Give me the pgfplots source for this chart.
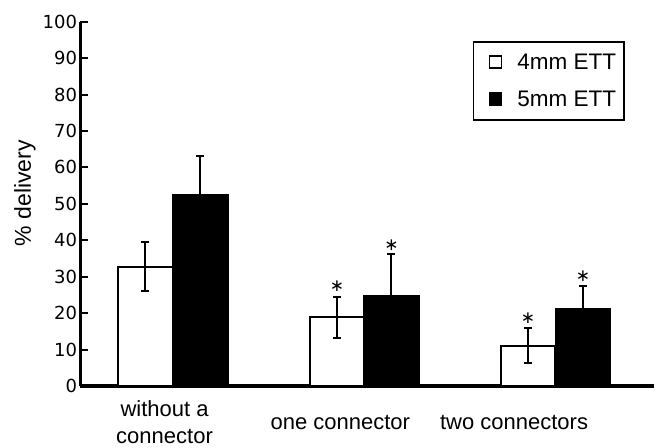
\documentclass[border=0pt]{standalone}
\usepackage{fontspec}
\setmainfont{Liberation Sans}
\newfontfamily\dejavu{DejaVu Sans}
\usepackage{pgfplots}
\pgfplotsset{compat=1.18}
\begin{document}
\begin{tikzpicture}
\begin{axis}[
  scale only axis,
  width=573pt, height=364.3pt,
  xmin=0, xmax=3, ymin=0, ymax=100,
  clip=false,
  axis x line=bottom, axis y line=left,
  axis line style={line width=3.6pt, -},
  every outer x axis line/.append style={-},
  every outer y axis line/.append style={-},
  ytick={0,10,...,100},
  tick align=inside,
  major tick length=8pt,
  every tick/.style={black, line width=2pt},
  xtick={0.44,1.36,2.27},
  xticklabels={{without a\\connector},{one connector},{two connectors}},
  x tick style={draw=none},
  minor xtick={1,2},
  minor tick length=8pt,
  minor x tick style={black, line width=2pt},
  /pgf/number format/assume math mode=true,
  y tick label style={font=\dejavu\fontsize{18}{21}\selectfont},
  x tick label style={font=\fontsize{22}{27}\selectfont, align=center, anchor=center, yshift=-36pt},
  ylabel={\% delivery},
  ylabel style={font=\fontsize{23}{26}\selectfont, at={(axis description cs:-0.097,0.529)}, anchor=center, rotate=0},
  legend style={at={(0.950,0.947)}, anchor=north east, font=\fontsize{22.5}{26}\selectfont,
    draw=black, line width=1.6pt, inner xsep=6pt, inner ysep=10pt, row sep=16pt, column sep=13pt},
  legend cell align=left,
]
\addplot[ybar, bar width=0.285, bar shift=0pt, fill=white, draw=black, line width=2pt,
  legend image code/.code={\path (0pt,0pt); \draw[fill=white, draw=black, line width=1.6pt] (9pt,-6pt) rectangle (21pt,6pt);},
  error bars/.cd, y dir=both, y explicit,
  error bar style={line width=2pt, black},
  error mark options={rotate=90, mark size=4pt, line width=2pt, black}]
coordinates {(0.34,32.7) +- (0,6.7) (1.343,18.9) +- (0,5.6) (2.343,11.0) +- (0,4.8)};
\addlegendentry{4mm ETT}
\addplot[ybar, bar width=0.285, bar shift=0pt, fill=black, draw=black, line width=2pt,
  legend image code/.code={\path (0pt,0pt); \draw[fill=black, draw=black, line width=1.6pt] (9pt,-6pt) rectangle (21pt,6pt);},
  error bars/.cd, y dir=plus, y explicit,
  error bar style={line width=2pt, black},
  error mark options={rotate=90, mark size=4pt, line width=2pt, black}]
coordinates {(0.628,52.4) +- (0,10.7) (1.628,24.7) +- (0,11.5) (2.631,21.1) +- (0,6.3)};
\addlegendentry{5mm ETT}
\addplot[draw=none, mark=none, forget plot,
  nodes near coords={\dejavu\fontsize{17}{17}\selectfont ∗},
  every node near coord/.append style={anchor=center, inner sep=0pt, black}]
coordinates {(1.343,27.4) (1.628,38.6) (2.343,18.6) (2.631,30.1)};
\end{axis}
\pgfresetboundingbox
\useasboundingbox (-80.5pt,-61pt) rectangle (577.5pt,386pt);
\end{tikzpicture}
\end{document}
